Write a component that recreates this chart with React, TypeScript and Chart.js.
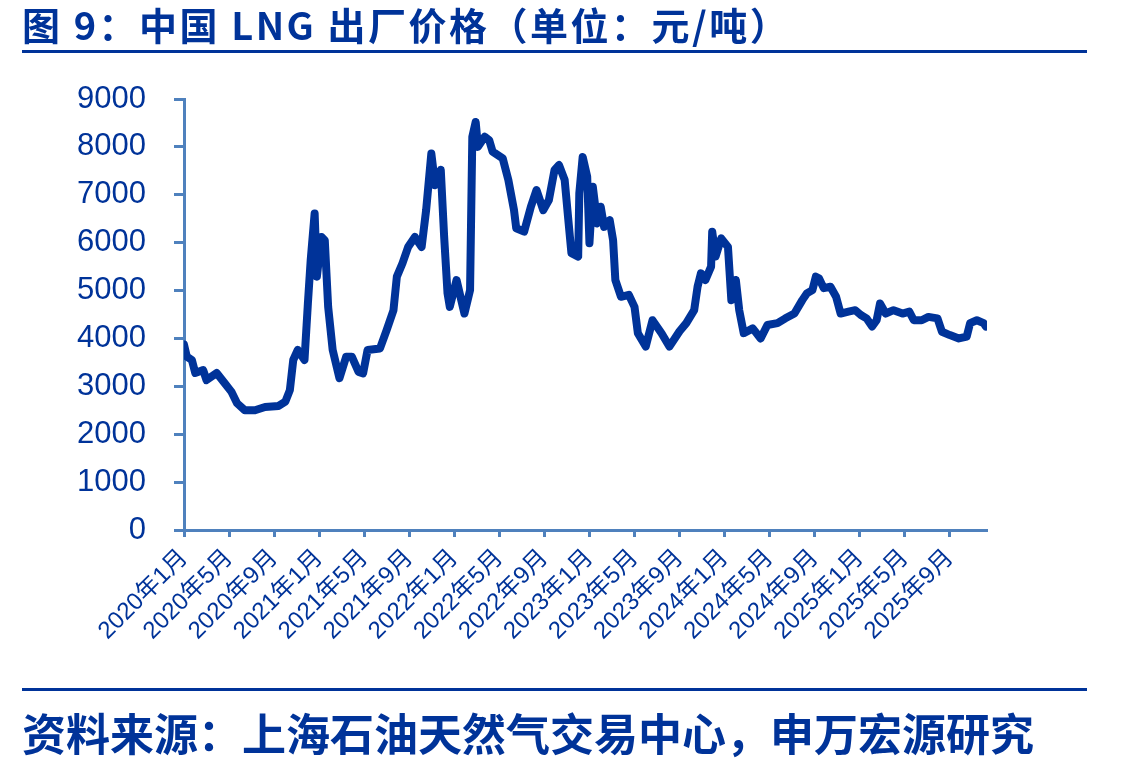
import { useEffect, useRef } from 'react';
import { Chart, registerables } from 'chart.js';

Chart.register(...registerables);

// month offset from 2020年1月, price in 元/吨
const monthOffsets = [
  0, 0.25, 0.7, 1.0, 1.7, 2.0, 2.9, 3.6, 4.2, 4.7, 5.4, 6.3, 7.2, 8.4, 9.0, 9.4, 9.7, 10.1, 10.7,
  11.0, 11.25, 11.6, 11.8, 12.2, 12.5, 12.8, 13.2, 13.8, 14.4, 14.9, 15.5, 15.9, 16.3, 17.4, 18.0,
  18.6, 18.9, 19.4, 19.9, 20.5, 21.1, 21.5, 21.96, 22.3, 22.8, 23.1, 23.4, 23.6, 24.2, 24.9, 25.4,
  25.6, 25.9, 26.1, 26.7, 27.1, 27.4, 28.3, 28.8, 29.3, 29.5, 30.2, 30.8, 31.3, 31.9, 32.4, 32.9,
  33.3, 33.8, 34.1, 34.4, 35.0, 35.1, 35.4, 35.8, 36.0, 36.3, 36.7, 37.0, 37.3, 37.8, 38.1, 38.3,
  38.8, 39.5, 40.0, 40.3, 41.0, 41.6, 42.4, 43.1, 44.0, 44.6, 45.3, 45.6, 45.9, 46.3, 46.8, 46.9,
  47.2, 47.7, 48.3, 48.6, 49.0, 49.3, 49.7, 50.5, 51.2, 51.8, 52.7, 53.4, 54.2, 54.9, 55.3, 55.8,
  56.1, 56.4, 56.8, 57.4, 57.9, 58.3, 59.0, 59.6, 60.1, 60.6, 61.1, 61.5, 61.8, 62.3, 63.0, 63.8,
  64.4, 64.8, 65.5, 66.1, 66.9, 67.3, 68.0, 68.8, 69.5, 69.8, 70.4, 71.0, 71.2,
];

const lngPrices = [
  3870, 3620, 3550, 3280, 3340, 3130, 3280, 3070, 2890, 2650, 2500, 2500, 2570, 2590, 2680, 2920, 3550, 3760, 3550,
  4730, 5640, 6610, 5290, 6120, 6050, 4660, 3760, 3170, 3620, 3620, 3300, 3270, 3760, 3790, 4180,
  4590, 5290, 5570, 5910, 6120, 5910, 6680, 7860, 7200, 7520, 6120, 4940, 4660, 5220, 4520, 5010,
  8210, 8520, 8000, 8210, 8140, 7900, 7760, 7310, 6680, 6300, 6230, 6750, 7100, 6680, 6890, 7520,
  7620, 7310, 6540, 5780, 5710, 7030, 7790, 7380, 5990, 7170, 6400, 6750, 6330, 6470, 6050, 5220,
  4870, 4910, 4660, 4110, 3830, 4380, 4110, 3830, 4150, 4320, 4590, 5080, 5360, 5220, 5500, 6230,
  5710, 6090, 5910, 4800, 5220, 4590, 4110, 4210, 4000, 4280, 4320, 4420, 4520, 4800, 4940, 5010,
  5290, 5250, 5050, 5080, 4870, 4520, 4560, 4590, 4490, 4420, 4250, 4380, 4730, 4520, 4590, 4520,
  4560, 4380, 4380, 4450, 4420, 4140, 4070, 4000, 4040, 4320, 4380, 4320, 4250,
];

const tickLabels = [
  '2020年1月', '2020年5月', '2020年9月', '2021年1月', '2021年5月', '2021年9月',
  '2022年1月', '2022年5月', '2022年9月', '2023年1月', '2023年5月', '2023年9月',
  '2024年1月', '2024年5月', '2024年9月', '2025年1月', '2025年5月', '2025年9月',
];

const navy = '#003399';
const axisBlue = '#4f81bd';
const latin = '"Liberation Sans", "Noto Sans CJK SC", sans-serif';
const cjk = '"Noto Sans CJK SC", sans-serif';

const App = () => {
  const canvasRef = useRef<HTMLCanvasElement | null>(null);
  const chartRef = useRef<Chart | null>(null);

  useEffect(() => {
    if (!canvasRef.current) return;
    if (chartRef.current) chartRef.current.destroy();

    chartRef.current = new Chart(canvasRef.current, {
      type: 'line',
      data: {
        datasets: [{
          label: 'LNG出厂价格',
          data: monthOffsets.map((m, i) => ({ x: m, y: lngPrices[i] })),
          borderColor: navy,
          borderWidth: 8,
          pointRadius: 0,
          tension: 0,
          borderJoinStyle: 'round',
          borderCapStyle: 'round',
        }]
      },
      options: {
        animation: false,
        responsive: true,
        maintainAspectRatio: false,
        layout: { padding: { left: 0, top: 99, right: 156, bottom: 0 } },
        plugins: {
          legend: { display: false },
          tooltip: { enabled: false },
        },
        scales: {
          x: {
            type: 'linear',
            min: 0,
            max: 71.3,
            // one tick every 4 months, one per label
            afterBuildTicks: (scale: any) => {
              scale.ticks = tickLabels.map((_, i) => ({ value: i * 4 }));
            },
            afterFit: (scale: any) => { scale.height = 237; },
            ticks: {
              autoSkip: false,
              minRotation: 45,
              maxRotation: 45,
              padding: 7,
              color: navy,
              font: { family: latin, size: 24 },
              callback: (v: any) => tickLabels[Math.round(Number(v) / 4)] ?? '',
            },
            grid: {
              drawOnChartArea: false,
              drawTicks: true,
              tickLength: 7,
              tickWidth: 3,
              color: axisBlue,
            },
            border: { display: true, color: axisBlue, width: 3 },
          },
          y: {
            min: 0,
            max: 9000,
            afterFit: (scale: any) => { scale.width = 184; },
            ticks: {
              stepSize: 1000,
              padding: 28,
              color: navy,
              font: { family: latin, size: 31 },
              callback: (v: any) => String(v),
            },
            grid: {
              drawOnChartArea: false,
              drawTicks: true,
              tickLength: 10,
              tickWidth: 3,
              color: axisBlue,
            },
            border: { display: true, color: axisBlue, width: 3 },
          },
        },
      },
    });

    return () => {
      if (chartRef.current) {
        chartRef.current.destroy();
        chartRef.current = null;
      }
    };
  }, []);

  return (
    <div style={{ position: 'absolute', left: 0, top: 0, width: 1143, height: 767, background: '#fff', overflow: 'hidden' }}>
      <div style={{ position: 'absolute', left: 0, top: 0, width: 1143, height: 767 }}>
        <canvas ref={canvasRef}></canvas>
      </div>
      <div style={{
        position: 'absolute', left: 22, top: 0, fontFamily: cjk, fontWeight: 700,
        fontSize: 38, color: navy, whiteSpace: 'nowrap', lineHeight: '48px', letterSpacing: 2.5,
      }}>
        图 9：中国 LNG 出厂价格（单位：元/吨）
      </div>
      <div style={{ position: 'absolute', left: 22, top: 50, width: 1065, height: 3, background: navy }} />
      <div style={{ position: 'absolute', left: 22, top: 688, width: 1065, height: 3, background: navy }} />
      <div style={{
        position: 'absolute', left: 22, top: 704, fontFamily: cjk, fontWeight: 700,
        fontSize: 44, color: navy, whiteSpace: 'nowrap', lineHeight: '56px',
      }}>
        资料来源：上海石油天然气交易中心，申万宏源研究
      </div>
    </div>
  );
};

export default App;
